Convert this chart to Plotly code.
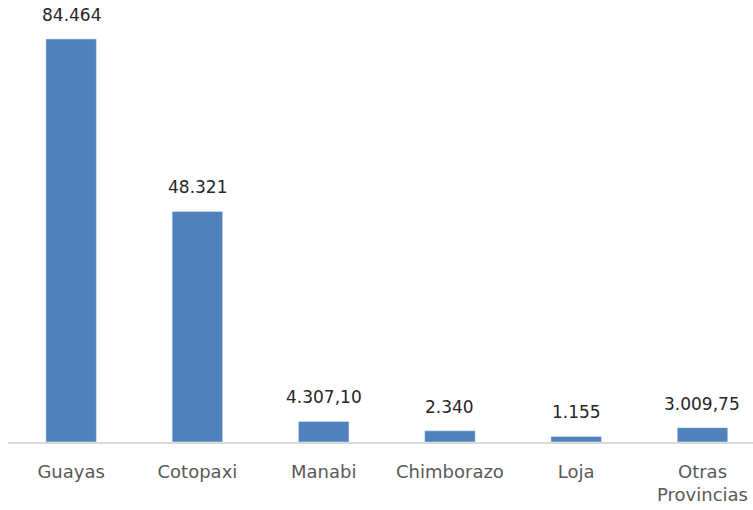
import plotly.graph_objects as go

provincias = ["Guayas", "Cotopaxi", "Manabi", "Chimborazo", "Loja", "Otras<br>Provincias"]
valores = [84464, 48321, 4307.10, 2340, 1155, 3009.75]
etiquetas = ["84.464", "48.321", "4.307,10", "2.340", "1.155", "3.009,75"]

fig = go.Figure(
    go.Bar(
        x=provincias,
        y=valores,
        marker_color="#4F81BD",
        width=0.4,
        hoverinfo="x+y",
    )
)

for prov, val, lab in zip(provincias, valores, etiquetas):
    fig.add_annotation(
        x=prov,
        y=val,
        text=lab,
        showarrow=False,
        yanchor="middle",
        yshift=24,
        font=dict(family="DejaVu Sans", size=17, color="#262626"),
    )

fig.update_layout(
    width=753,
    height=510,
    margin=dict(l=8, r=0, t=0, b=68),
    plot_bgcolor="white",
    paper_bgcolor="white",
    showlegend=False,
    xaxis=dict(
        range=[-0.5, 5.4],
        showline=True,
        linecolor="#d9d9d9",
        linewidth=2,
        ticks="",
        ticklabelstandoff=12,
        tickfont=dict(family="DejaVu Sans", size=18, color="#595959"),
    ),
    yaxis=dict(
        range=[0, 92640],
        visible=False,
        showgrid=False,
    ),
)

# drop the default 8px body margin so the figure fills the window
fig.write_html(
    "out.html",
    config={"displayModeBar": False},
    post_script="document.body.style.margin='0px';",
)
